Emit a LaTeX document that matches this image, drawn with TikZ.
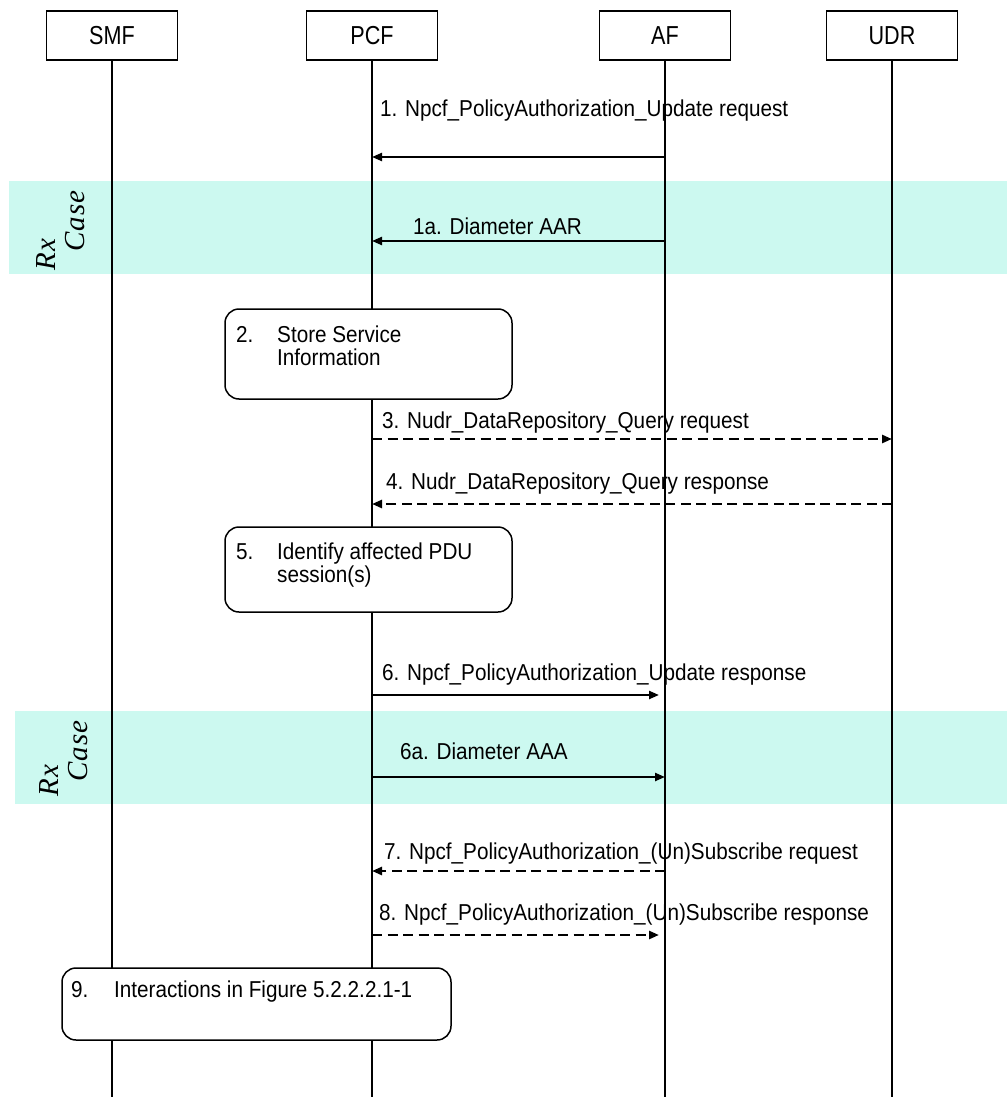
\documentclass[tikz,border=0pt]{standalone}
\usepackage{fontspec}
\setmainfont{Liberation Sans}
\newfontfamily\txtfont[FakeStretch=0.9]{Liberation Sans}
\newfontfamily\hdrfont[FakeStretch=0.83]{Liberation Sans}
\newfontfamily\rxfont[LetterSpace=4]{Liberation Serif}
\usetikzlibrary{arrows.meta,calc}
\definecolor{rxband}{RGB}{204,249,240}
\tikzset{
 every node/.style={font=\txtfont\fontsize{23}{26}\selectfont, inner sep=0pt},
 entity/.style={draw, line width=1.4pt, minimum width=131pt, minimum height=49pt, font=\hdrfont\fontsize{26}{30}\selectfont},
 life/.style={line width=1.4pt},
 procbox/.style={draw, fill=white, rounded corners=14pt, line width=1.5pt},
 msg/.style={line width=2.2pt, -{Triangle[length=10pt,width=8pt]}},
 dmsg/.style={msg, line width=2.6pt, dash pattern=on 10pt off 5.5pt},
 lbl/.style={anchor=base west},
 band/.style={fill=rxband, draw=none},
 rx/.style={rotate=90, anchor=base west, font=\rxfont\itshape\fontsize{29}{32}\selectfont},
}
\begin{document}
\begin{tikzpicture}[x=1pt,y=-1pt]
\useasboundingbox (0,0) rectangle (1007,1097);
% Rx bands
\fill[band] (9,181) rectangle (1007,274);
\fill[band] (15,711) rectangle (1007,804);
\node[rx] (rx1a) at (55,271) {Rx};
\node[rx] (rx1b) at (84,252) {Case};
\node[rx] (rx2a) at (58,797) {Rx};
\node[rx] (rx2b) at (87,782) {Case};
% entities
\node[entity] (smf) at (112,35.5) {SMF};
\node[entity] (pcf) at (372,35.5) {PCF};
\node[entity] (af) at (665,35.5) {AF};
\node[entity] (udr) at (892,35.5) {UDR};
\coordinate (bot) at (0,1097);
\foreach \e in {smf,pcf,af,udr} \draw[life] (\e.south) -- (\e.south |- bot);
% processing boxes
\node[procbox, minimum width=287pt, minimum height=90pt] (s2) at (368.5,354) {};
\node[lbl] (s2n) at (236,342) {2.};
\node[lbl] (s2a) at (277,342) {Store Service};
\node[lbl] (s2b) at (277,365) {Information};
\node[procbox, minimum width=287pt, minimum height=85pt] (s5) at (368.5,569.5) {};
\node[lbl] (s5n) at (236,559) {5.};
\node[lbl] (s5a) at (277,559) {Identify affected PDU};
\node[lbl] (s5b) at (277,582) {session(s)};
\node[procbox, minimum width=389pt, minimum height=72pt] (s9) at (256.5,1004) {};
\node[lbl] (s9n) at (71,997) {9.};
\node[lbl] (s9a) at (114,997) {Interactions in Figure 5.2.2.2.1-1};
% messages
\node[lbl] (l1) at (380,117) {1. Npcf\_PolicyAuthorization\_Update request};
\draw[msg] (af |- 0,157) -- (pcf |- 0,157);
\node[lbl] (l1a) at (413,234) {1a. Diameter AAR};
\draw[msg] (af |- 0,241) -- (pcf |- 0,241);
\node[lbl] (l3) at (382,428) {3. Nudr\_DataRepository\_Query request};
\draw[dmsg] (pcf |- 0,439) -- (udr |- 0,439);
\node[lbl] (l4) at (386,489) {4. Nudr\_DataRepository\_Query response};
\draw[dmsg] (udr |- 0,504) -- (pcf |- 0,504);
\node[lbl] (l6) at (382,680) {6. Npcf\_PolicyAuthorization\_Update response};
\draw[msg] (pcf |- 0,695) -- ($(af |- 0,695)+(-6,0)$);
\node[lbl] (l6a) at (400,759) {6a. Diameter AAA};
\draw[msg] (pcf |- 0,777) -- (af |- 0,777);
\node[lbl] (l7) at (384,859) {7. Npcf\_PolicyAuthorization\_(Un)Subscribe request};
\draw[dmsg] (af |- 0,871) -- (pcf |- 0,871);
\node[lbl] (l8) at (379,920) {8. Npcf\_PolicyAuthorization\_(Un)Subscribe response};
\draw[dmsg] (pcf |- 0,935) -- ($(af |- 0,935)+(-6,0)$);
\end{tikzpicture}
\end{document}
